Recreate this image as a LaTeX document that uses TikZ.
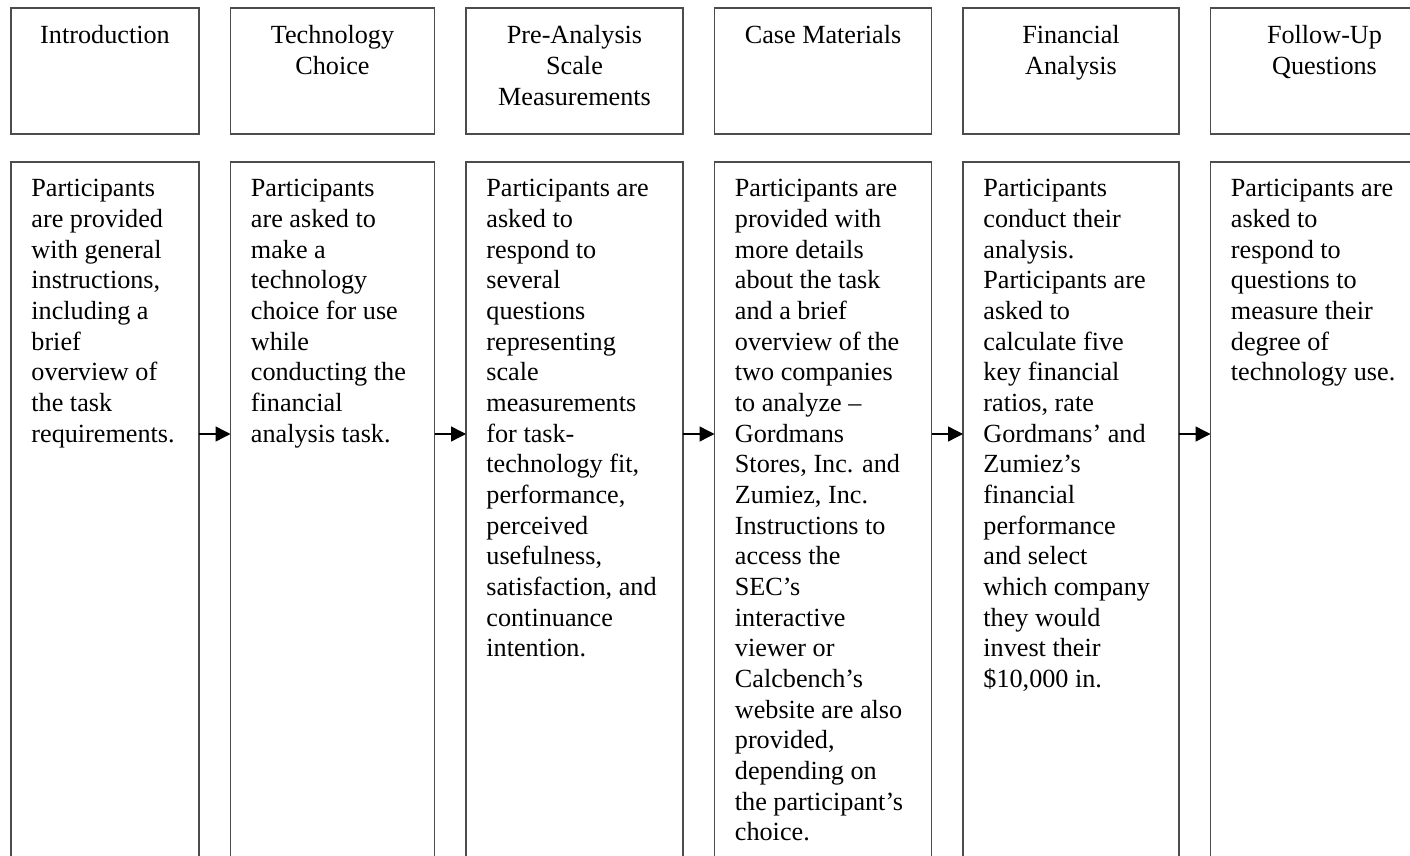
\documentclass[tikz,border=0pt]{standalone}
\usepackage{fontspec}
\setmainfont{Liberation Serif}
\usetikzlibrary{arrows.meta,positioning}
\tikzset{
    %Define standard arrow tip
    >={Triangle[length=7.5pt,width=7.5pt]},
    %Define style for boxes
    stagebox/.style={
           rectangle,
           draw=black!70, line width=0.75pt,
           inner sep=0pt, outer sep=0pt,
           minimum height=63pt},
    detailbox/.style={
           rectangle,
           draw=black!70, line width=0.75pt,
           inner sep=0pt, outer sep=0pt,
           minimum height=380pt},
    stagetext/.style={
           anchor=north,
           inner sep=0pt,
           align=center,
           font=\fontsize{13.1pt}{15.33pt}\selectfont},
    detailtext/.style={
           anchor=north west,
           inner sep=0pt,
           align=left,
           font=\fontsize{13.1pt}{15.33pt}\selectfont},
    % Define arrow style
    pil/.style={
           ->,
           line width=0.7pt,
           draw=black}
}
\begin{document}
\begin{tikzpicture}[x=0.5pt,y=-0.5pt,node distance=14pt and 15.75pt]
\useasboundingbox (0,0) rectangle (1410,856);
\clip (0,0) rectangle (1410,856);
 %stage boxes
\node[stagebox, anchor=north west, minimum width=94pt] (s1) at (11,8) {};
\node[stagebox, right=of s1, minimum width=102pt] (s2) {};
\node[stagebox, right=of s2, minimum width=108.5pt] (s3) {};
\node[stagebox, right=of s3, minimum width=108.5pt] (s4) {};
\node[stagebox, right=of s4, minimum width=108pt] (s5) {};
\node[stagebox, right=of s5, minimum width=114pt] (s6) {};
 %detail boxes
\node[detailbox, below=of s1, minimum width=94pt] (d1) {};
\node[detailbox, below=of s2, minimum width=102pt] (d2) {};
\node[detailbox, below=of s3, minimum width=108.5pt] (d3) {};
\node[detailbox, below=of s4, minimum width=108.5pt] (d4) {};
\node[detailbox, below=of s5, minimum width=108pt] (d5) {};
\node[detailbox, below=of s6, minimum width=114pt] (d6) {};
 %titles
\node[stagetext] (n1) at ([yshift=-8.6pt]s1.north) {Introduction};
\node[stagetext] (n2) at ([yshift=-8.6pt]s2.north) {Technology\\Choice};
\node[stagetext] (n3) at ([yshift=-8.6pt]s3.north) {Pre-Analysis\\Scale\\Measurements};
\node[stagetext] (n4) at ([yshift=-8.6pt]s4.north) {Case Materials};
\node[stagetext] (n5) at ([yshift=-8.6pt]s5.north) {Financial\\Analysis};
\node[stagetext] (n6) at ([yshift=-8.6pt]s6.north) {Follow-Up\\Questions};
 %descriptions
\node[detailtext] (t1) at ([xshift=10pt,yshift=-8.6pt]d1.north west)
    {Participants\\are provided\\with general\\instructions,\\including a\\brief\\overview of\\the task\\requirements.};
\node[detailtext] (t2) at ([xshift=10pt,yshift=-8.6pt]d2.north west)
    {Participants\\are asked to\\make a\\technology\\choice for use\\while\\conducting the\\financial\\analysis task.};
\node[detailtext] (t3) at ([xshift=10pt,yshift=-8.6pt]d3.north west)
    {Participants are\\asked to\\respond to\\several\\questions\\representing\\scale\\measurements\\for task-\\technology fit,\\performance,\\perceived\\usefulness,\\satisfaction, and\\continuance\\intention.};
\node[detailtext] (t4) at ([xshift=10pt,yshift=-8.6pt]d4.north west)
    {Participants are\\provided with\\more details\\about the task\\and a brief\\overview of the\\two companies\\to analyze --\\Gordmans\\Stores, Inc. and\\Zumiez, Inc.\\Instructions to\\access the\\SEC’s\\interactive\\viewer or\\Calcbench’s\\website are also\\provided,\\depending on\\the participant’s\\choice.};
\node[detailtext] (t5) at ([xshift=10pt,yshift=-8.6pt]d5.north west)
    {Participants\\conduct their\\analysis.\\Participants are\\asked to\\calculate five\\key financial\\ratios, rate\\Gordmans’ and\\Zumiez’s\\financial\\performance\\and select\\which company\\they would\\invest their\\\$10,000 in.};
\node[detailtext] (t6) at ([xshift=10pt,yshift=-8.6pt]d6.north west)
    {Participants are\\asked to\\respond to\\questions to\\measure their\\degree of\\technology use.};
 %arrows
\coordinate (flow) at (0,434);
\draw[pil] (d1.east |- flow) -- (d2.west |- flow);
\draw[pil] (d2.east |- flow) -- (d3.west |- flow);
\draw[pil] (d3.east |- flow) -- (d4.west |- flow);
\draw[pil] (d4.east |- flow) -- (d5.west |- flow);
\draw[pil] (d5.east |- flow) -- (d6.west |- flow);
\end{tikzpicture}
\end{document}
